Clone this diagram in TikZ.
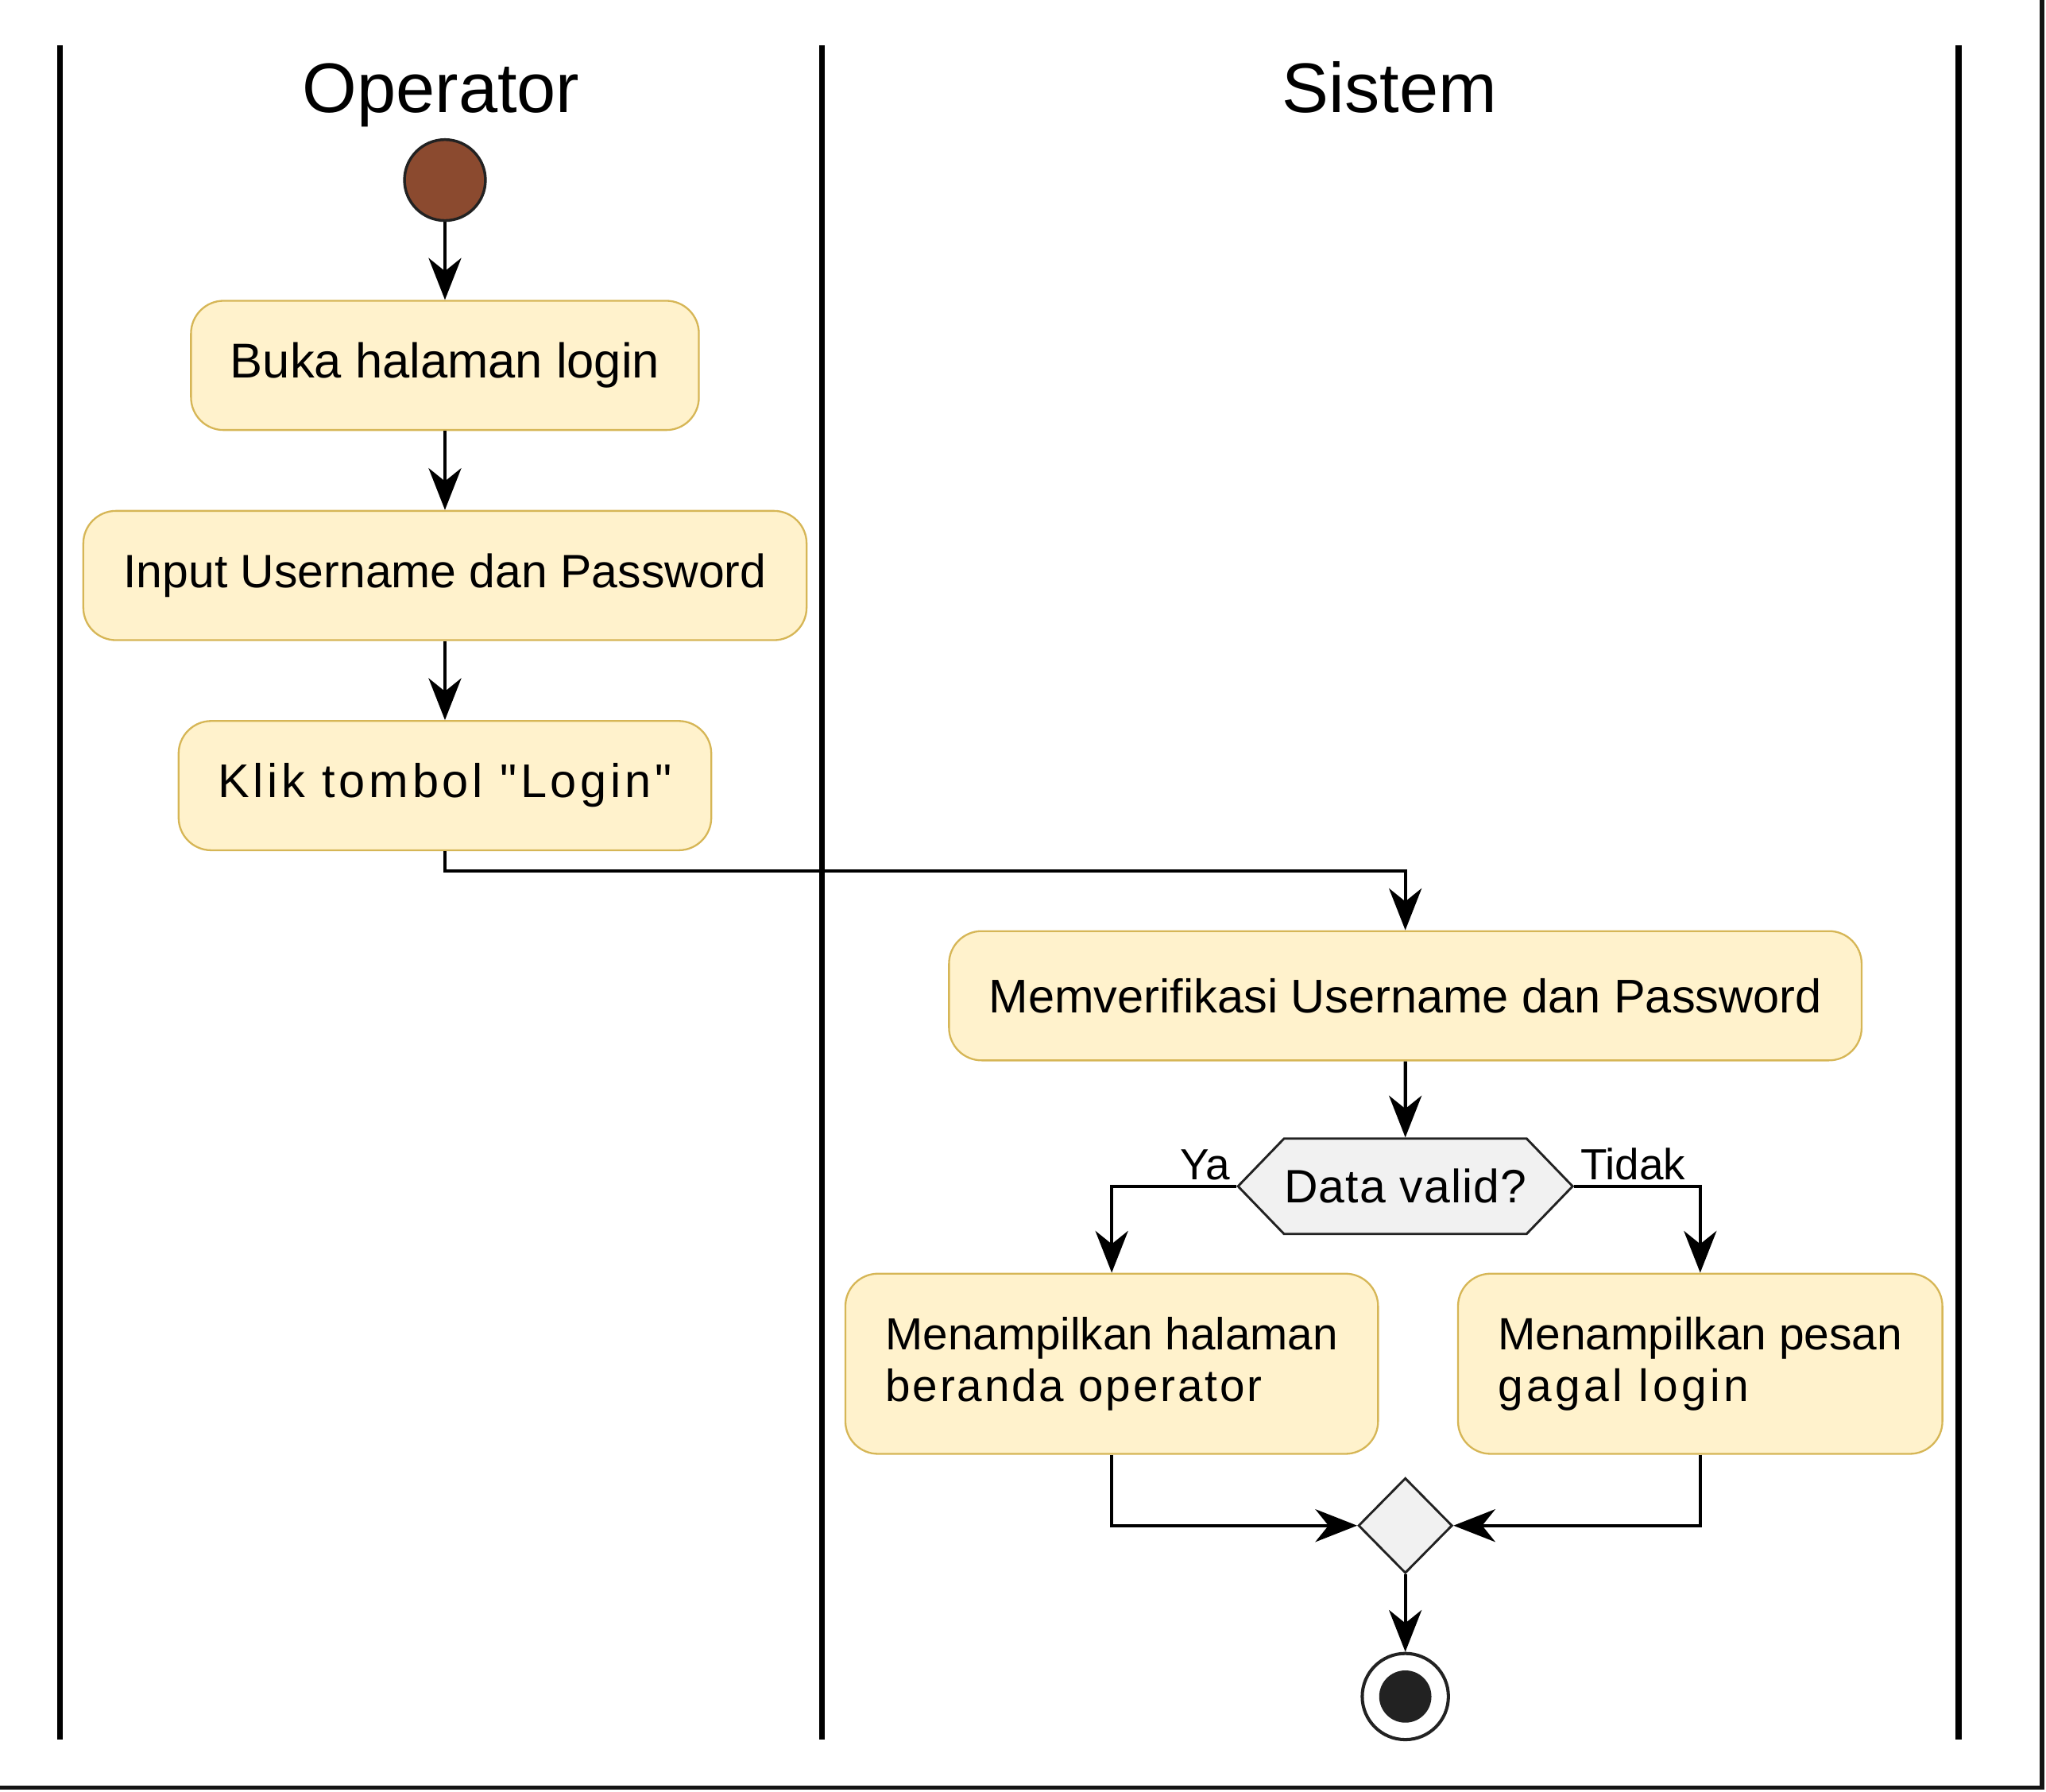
\documentclass[tikz,border=0pt]{standalone}
\usepackage{fontspec}
\setmainfont{Liberation Sans}
\usetikzlibrary{arrows.meta,shapes.geometric,shapes.symbols}
\definecolor{aksi}{HTML}{FFF2CC}
\definecolor{aksitepi}{HTML}{D6B656}
\definecolor{mulai}{HTML}{8B4A2F}
\definecolor{abu}{HTML}{F1F1F1}
\definecolor{gelap}{HTML}{222222}
\newcommand{\ukuran}[1]{\fontsize{#1}{11.3}\selectfont}
\begin{document}
\begin{tikzpicture}[x=0.01cm,y=-0.01cm,
    lajur/.style={line width=1.3pt,black},
    judul/.style={font=\fontsize{15.3}{18}\selectfont,anchor=base},
    aksibox/.style={draw=aksitepi,fill=aksi,line width=0.4pt,rounded corners=0.25cm,
        minimum height=0.99cm,align=left,font=\ukuran{10.3}},
    alir/.style={line width=0.75pt,-{Stealth[length=0.32cm,width=0.25cm,inset=0.1cm]}},
    ket/.style={font=\fontsize{9.5}{11}\selectfont,inner sep=1pt}]
    \useasboundingbox (0,0) rectangle (1568,1373);
    \draw [line width=0.9pt,black!92] (1565,0) -- (1565,1370) -- (0,1370);
    \draw [lajur] (46,35) -- (46,1333);
    \draw [lajur] (630,35) -- (630,1333);
    \draw [lajur] (1501,35) -- (1501,1333);
    \node [judul] (operator) at (338,86) {Operator};
    \node [judul] (sistem) at (1065,86) {Sistem};
    \node [circle,draw=gelap,fill=mulai,line width=0.6pt,minimum size=0.62cm,inner sep=0] (start) at (341,138) {};
    \node [aksibox,minimum width=3.89cm,font=\ukuran{10.65}] (buka) at (341,280) {Buka halaman login};
    \node [aksibox,minimum width=5.54cm,font=\ukuran{10.2}] (input) at (341,441) {Input Username dan Password};
    \node [aksibox,minimum width=4.08cm,font=\ukuran{10.3}\addfontfeatures{LetterSpace=8,Ligatures=TeXOff}] (klik) at (341,602) {Klik tombol "Login"};
    \node [aksibox,minimum width=6.99cm] (verif) at (1077,763) {Memverifikasi Username dan Password};
    \node [signal,signal to=west and east,signal pointer angle=92,draw=gelap,fill=abu,line width=0.5pt,
        minimum width=2.55cm,minimum height=0.73cm,inner sep=0,font=\fontsize{10.2}{12}\selectfont\addfontfeatures{LetterSpace=2}] (cek) at (1077,909) {Data valid?};
    \node [aksibox,minimum width=4.08cm,minimum height=1.38cm,font=\ukuran{9.8}] (hal) at (852,1045) {\raisebox{-3pt}{Menampilkan halaman}\\\raisebox{-3pt}{\addfontfeatures{LetterSpace=5}beranda operator}};
    \node [aksibox,minimum width=3.71cm,minimum height=1.38cm,font=\ukuran{9.85}] (gagal) at (1303,1045) {\raisebox{-3pt}{Menampilkan pesan}\\\raisebox{-3pt}{\addfontfeatures{LetterSpace=8}gagal login}};
    \node [diamond,draw=gelap,fill=abu,line width=0.5pt,minimum width=0.72cm,minimum height=0.73cm,inner sep=0] (gabung) at (1077,1169) {};
    \node [circle,draw=gelap,fill=white,line width=0.7pt,minimum size=0.66cm,inner sep=0] (akhir) at (1077,1300) {};
    \node [circle,fill=gelap,minimum size=0.4cm,inner sep=0] (akhirisi) at (akhir) {};
    \draw [alir] (start) -- (buka);
    \draw [alir] (buka) -- (input);
    \draw [alir] (input) -- (klik);
    \draw [alir] (klik.south) -- ++(0,15) -| (verif.north);
    \draw [alir] (verif) -- (cek);
    \draw [alir] (cek.west) node [ket,above left] (ya) {Ya} -| (hal.north);
    \draw [alir] (cek.east) node [ket,above right] (tidak) {Tidak} -| (gagal.north);
    \draw [alir] (hal.south) |- (gabung.west);
    \draw [alir] (gagal.south) |- (gabung.east);
    \draw [alir] (gabung) -- (akhir);
\end{tikzpicture}
\end{document}
